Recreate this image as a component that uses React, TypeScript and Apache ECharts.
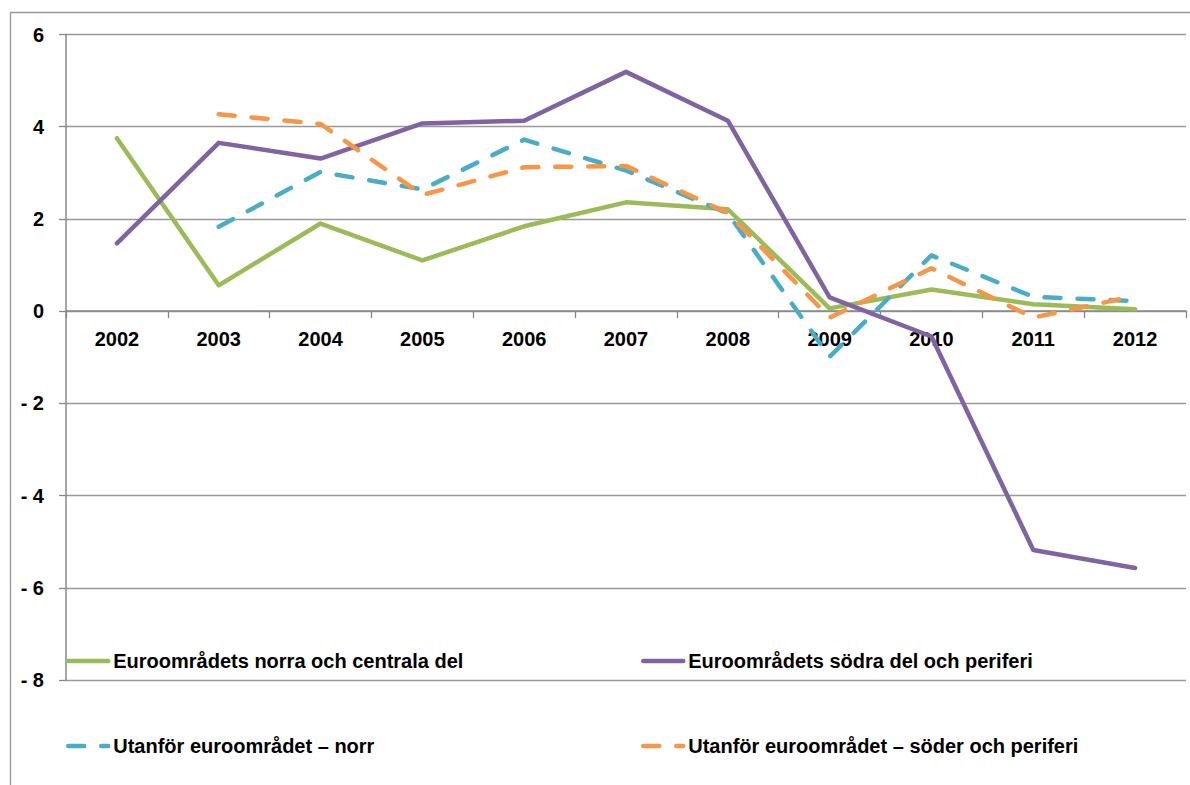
import React, { useEffect, useRef } from "react";
import * as echarts from "echarts";

const years = ["2002", "2003", "2004", "2005", "2006", "2007", "2008", "2009", "2010", "2011", "2012"];
const seriesNames = [
  "Euroområdets norra och centrala del",
  "Euroområdets södra del och periferi",
  "Utanför euroområdet – norr",
  "Utanför euroområdet – söder och periferi",
];
const northCentral = [3.75, 0.56, 1.9, 1.1, 1.84, 2.36, 2.21, 0.06, 0.47, 0.15, 0.04];
const southPeriphery = [1.47, 3.65, 3.31, 4.07, 4.13, 5.19, 4.13, 0.3, -0.55, -5.18, -5.57];
const outsideNorth = [null, 1.83, 3.02, 2.64, 3.72, 3.05, 2.12, -0.99, 1.21, 0.31, 0.22];
const outsideSouth = [null, 4.27, 4.06, 2.52, 3.12, 3.15, 2.13, -0.14, 0.93, -0.14, 0.33];
const yTicks = { min: -8, max: 6, interval: 2 };

const colors = ["#9BBB59", "#8064A2", "#4BACC6", "#F79646"];
const FONT = "Liberation Sans";

export default function App() {
  const ref = useRef<HTMLDivElement>(null);
  useEffect(() => {
    if (!ref.current) return;
    const chart = echarts.init(ref.current, undefined, { renderer: "svg" });
    const data = [northCentral, southPeriphery, outsideNorth, outsideSouth];
    const gridTop = 34.5;
    const gridBottom = 105;
    const plotH = 785 - gridTop - gridBottom;
    const zeroFromBottom = (0 - yTicks.min) / (yTicks.max - yTicks.min) * plotH;
    const legendPos = [
      { left: 66, top: 651 },
      { left: 641, top: 651 },
      { left: 66, top: 736 },
      { left: 641, top: 736 },
    ];
    chart.setOption({
      animation: false,
      grid: { left: 66, right: 4, top: gridTop, bottom: gridBottom, containLabel: false },
      xAxis: {
        type: "category",
        data: years,
        boundaryGap: true,
        position: "bottom",
        offset: -zeroFromBottom,
        axisLine: { onZero: false, lineStyle: { color: "#888", width: 1.5 } },
        axisTick: { show: true, length: 7, lineStyle: { color: "#888", width: 1.3 } },
        axisLabel: {
          margin: 18,
          fontSize: 20,
          fontWeight: "bold",
          color: "#000",
          fontFamily: FONT,
        },
        splitLine: { show: false },
      },
      yAxis: {
        type: "value",
        min: yTicks.min,
        max: yTicks.max,
        interval: yTicks.interval,
        axisLine: { show: true, lineStyle: { color: "#888", width: 1.5 } },
        axisTick: { show: true, length: 7, lineStyle: { color: "#888", width: 1.3 } },
        axisLabel: {
          margin: 22,
          fontSize: 20,
          fontWeight: "bold",
          color: "#000",
          fontFamily: FONT,
          formatter: (v: number) => (v < 0 ? "- " + Math.abs(v) : String(v)),
        },
        splitLine: { show: true, lineStyle: { color: "#999", width: 1.3 } },
      },
      legend: legendPos.map((p, i) => ({
        data: [seriesNames[i]],
        left: p.left,
        top: p.top,
        padding: 0,
        itemWidth: 40,
        itemHeight: 20,
        itemGap: 0,
        itemStyle: { opacity: 0 },
        lineStyle: { width: 4.5 },
        textStyle: { fontSize: 20, fontWeight: "bold", color: "#000", fontFamily: FONT },
      })),
      graphic: [
        { type: "line", shape: { x1: 10, y1: 12.5, x2: 1190, y2: 12.5 }, style: { stroke: "#999", lineWidth: 1.3 } },
        { type: "line", shape: { x1: 10.5, y1: 12, x2: 10.5, y2: 785 }, style: { stroke: "#999", lineWidth: 1.3 } },
      ],
      series: data.map((d, i) => ({
        name: seriesNames[i],
        type: "line",
        data: d,
        symbol: "none",
        connectNulls: false,
        color: colors[i],
        lineStyle: {
          color: colors[i],
          width: 4.5,
          type: i >= 2 ? [16, 17] : "solid",
          cap: "round",
          join: "round",
        },
      })),
    });
    return () => chart.dispose();
  }, []);
  return (
    <div
      ref={ref}
      style={{ position: "fixed", left: 0, top: 0, width: 1190, height: 785, background: "#fff" }}
    />
  );
}
